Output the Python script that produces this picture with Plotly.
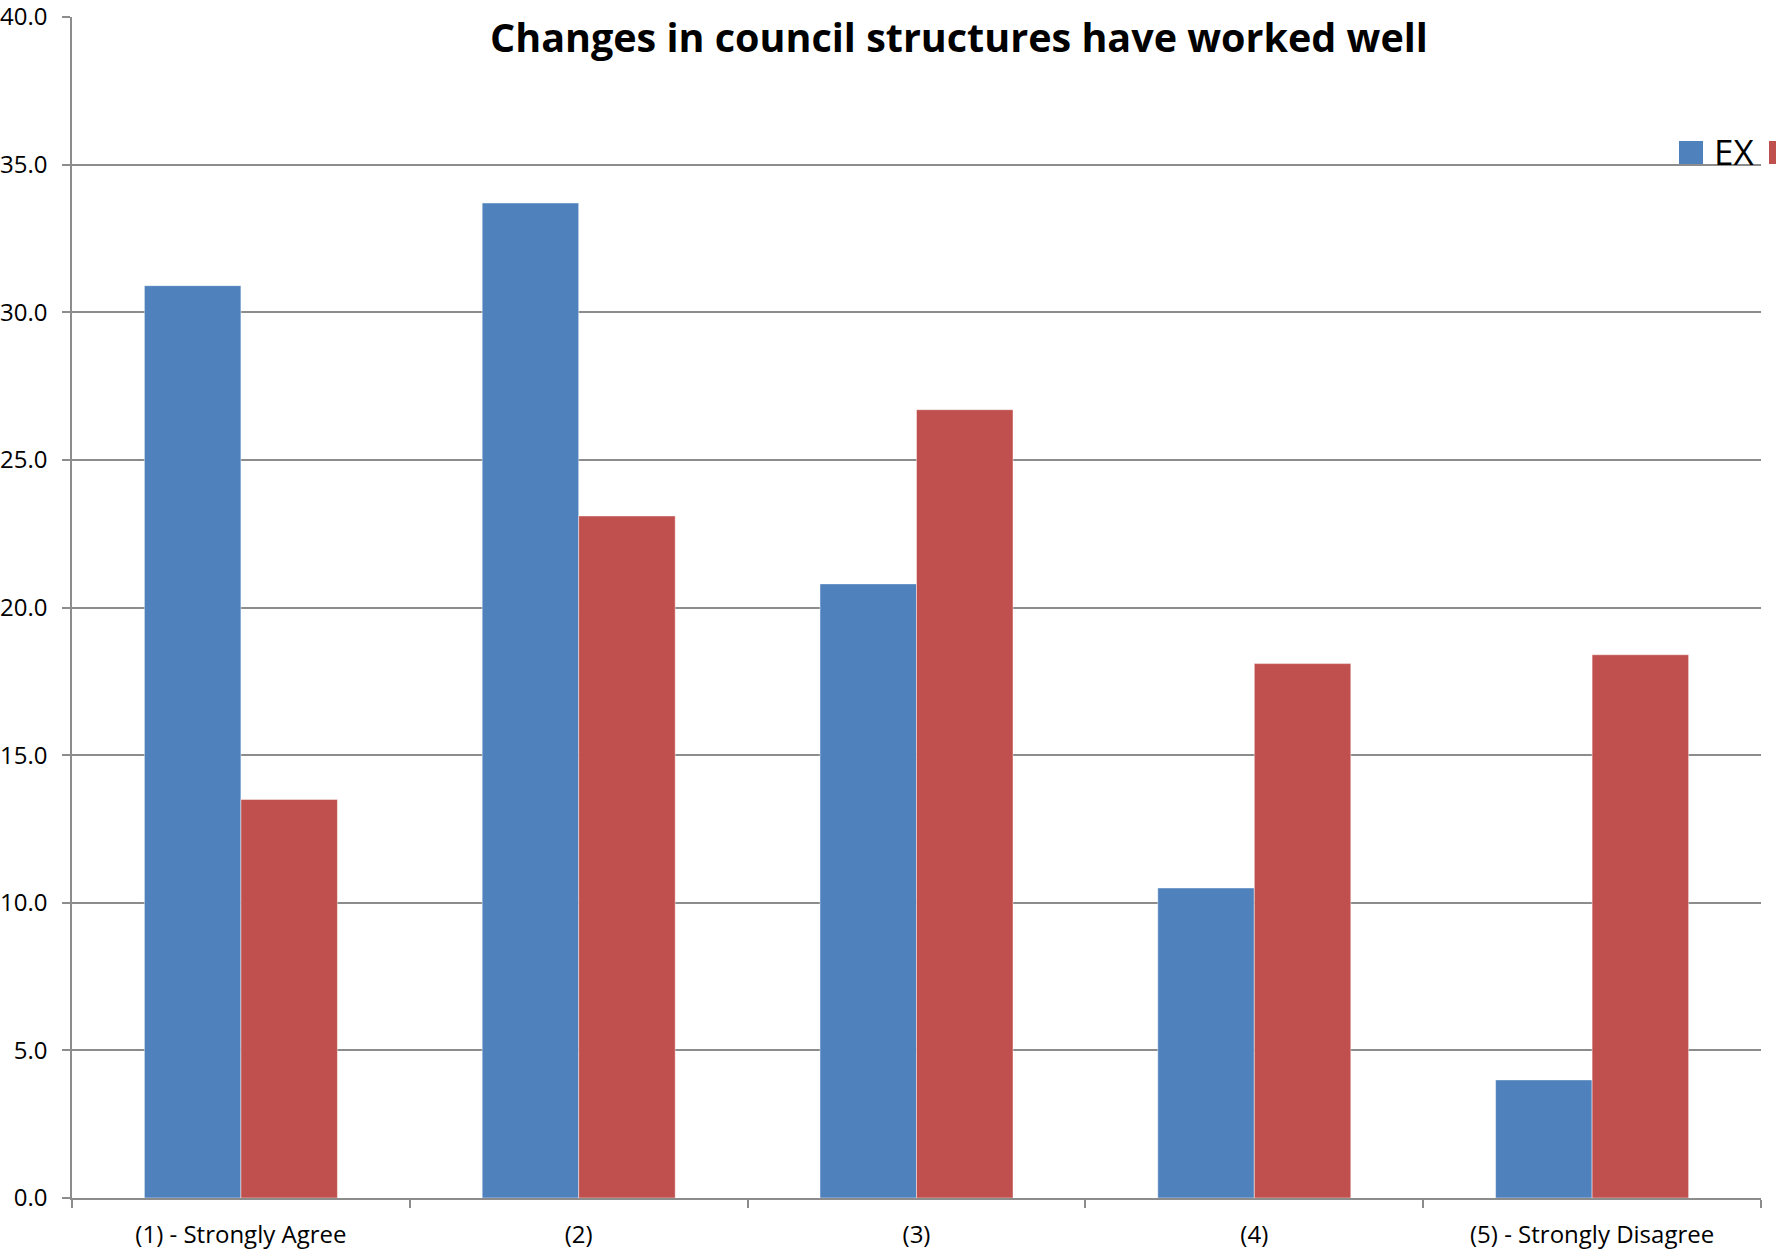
import plotly.graph_objects as go

# Survey responses (% of respondents) per answer category
categories = ["(1) - Strongly Agree", "(2)", "(3)", "(4)", "(5) - Strongly Disagree"]
ex_values = [30.9, 33.7, 20.8, 10.5, 4.0]
other_values = [13.5, 23.1, 26.7, 18.1, 18.4]
series_names = ["EX", "Non-EX"]
y_tick_values = [0, 5, 10, 15, 20, 25, 30, 35, 40]
y_tick_labels = [f"{v:.1f}" for v in y_tick_values]

BLUE = "#4F81BD"
RED = "#C0504D"
GRID = "#8C8C8C"
FONT = "Open Sans"

W, H = 1776, 1250
M = dict(l=72, r=15, t=17, b=52)
PW = W - M["l"] - M["r"]
PH = H - M["t"] - M["b"]


def px_x(x):
    return (x - M["l"]) / PW


def px_y(y):
    return 1 - (y - M["t"]) / PH


fig = go.Figure()
for name, vals, col in [(series_names[0], ex_values, BLUE), (series_names[1], other_values, RED)]:
    fig.add_trace(go.Bar(
        x=categories, y=vals, name=name,
        marker=dict(color=col, line=dict(color="rgba(255,255,255,0.45)", width=1)),
    ))

fig.update_layout(
    width=W, height=H,
    margin=dict(M, autoexpand=False),
    barmode="group",
    bargap=1.5 / 3.5,
    bargroupgap=0,
    plot_bgcolor="white",
    paper_bgcolor="white",
    showlegend=False,
    font=dict(family=FONT, color="black", size=24),
)

fig.update_xaxes(
    type="category",
    range=[-0.5, 4.5],
    automargin=False,
    showline=True, linecolor=GRID, linewidth=1.5,
    ticks="outside", tickson="boundaries", ticklen=8, tickcolor=GRID, tickwidth=1.5,
    showgrid=False,
    tickfont=dict(family=FONT, size=24, color="black"),
    ticklabelstandoff=14,
)
fig.update_yaxes(
    range=[0, 40.0001],
    automargin=False,
    ticklabeloverflow="allow",
    tickvals=y_tick_values, ticktext=y_tick_labels,
    showline=True, linecolor=GRID, linewidth=1.5,
    ticks="outside", ticklen=8, tickcolor=GRID, tickwidth=1.5,
    showgrid=True, gridcolor=GRID, gridwidth=1.5,
    zeroline=False,
    tickfont=dict(family=FONT, size=24, color="black"),
    ticklabelstandoff=10,
)

# Chart title
fig.add_annotation(
    text="<b>Changes in council structures have worked well</b>",
    xref="paper", yref="paper", x=px_x(959), y=px_y(37),
    xanchor="center", yanchor="middle", showarrow=False,
    font=dict(family=FONT, size=39.5, color="black"),
)

# Legend swatches; the row runs off the right edge of the page
legend_items = [(series_names[0], BLUE, 1679, True), (series_names[1], RED, 1769, False)]
for name, col, x0, show_label in legend_items:
    fig.add_shape(
        type="rect", xref="paper", yref="paper",
        x0=px_x(x0), x1=px_x(x0 + 24), y0=px_y(164), y1=px_y(141),
        fillcolor=col, line=dict(width=0),
    )
    if show_label:
        fig.add_annotation(
            text=name, xref="paper", yref="paper",
            x=px_x(x0 + 33), y=px_y(151), xanchor="left", yanchor="middle",
            showarrow=False, font=dict(family=FONT, size=35, color="black"),
        )

fig.write_html("out.html")
